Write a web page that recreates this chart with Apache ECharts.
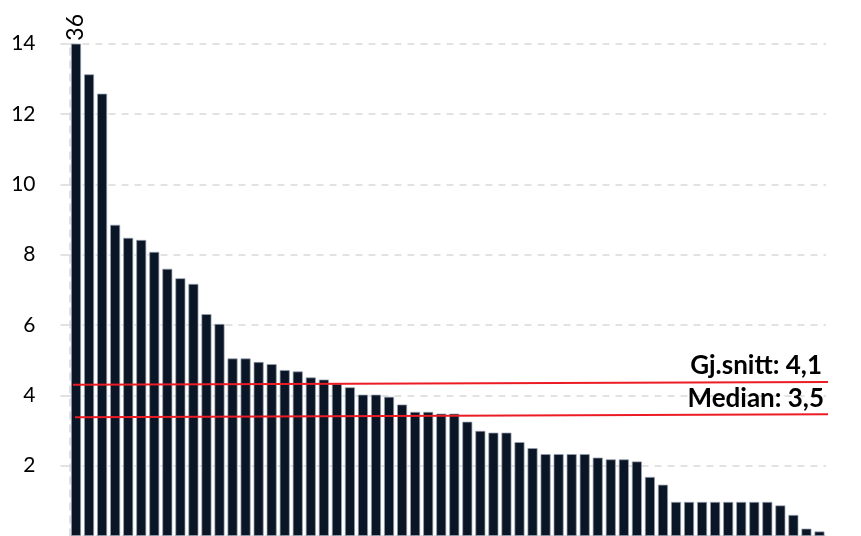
<!DOCTYPE html>
<html>
<head>
<meta charset="utf-8">
<script src="https://cdn.jsdelivr.net/npm/echarts@6/dist/echarts.min.js"></script>
<style>
  html, body { margin: 0; padding: 0; background: #fff; }
  #chart { width: 861px; height: 536px; }
</style>
</head>
<body>
<div id="chart"></div>
<script>
// verdier lest av figuren, sortert synkende
var values = [
  36, 13.13, 12.58, 8.85, 8.48, 8.42, 8.08, 7.60, 7.33, 7.17,
  6.31, 6.03, 5.05, 5.05, 4.95, 4.89, 4.72, 4.68, 4.51, 4.45,
  4.33, 4.23, 4.02, 4.02, 3.96, 3.74, 3.53, 3.53, 3.48, 3.48,
  3.25, 2.99, 2.94, 2.94, 2.67, 2.50, 2.33, 2.33, 2.33, 2.33,
  2.23, 2.18, 2.18, 2.12, 1.68, 1.46, 0.97, 0.97, 0.97, 0.97,
  0.97, 0.97, 0.97, 0.97, 0.87, 0.60, 0.21, 0.13
]
var categories = values.map(function (v, i) { return String(i + 1) })

var yMin = 0
var yMax = 14
var yInterval = 2

// referanselinjer (start/slutt i stolpeenheter, y-verdi)
var avgLine = [[0.27, 4.30], [58.24, 4.38]]
var medianLine = [[0.42, 3.38], [58.44, 3.46]]
var avgLabel = 'Gj.snitt: 4,1'
var medianLabel = 'Median: 3,5'

var font = 'Lato, "Open Sans", sans-serif'

// stolper over skalaen kappes, med faktisk verdi som etikett
var barData = values.map(function (v) {
  if (v > yMax) {
    return {
      value: yMax,
      label: { show: true, formatter: String(v) }
    }
  }
  return v
})

function refLine (pts, text, dx) {
  return {
    type: 'line',
    xAxisIndex: 1,
    data: pts,
    symbol: 'none',
    clip: false,
    silent: true,
    lineStyle: { color: '#ec1c24', width: 2 },
    endLabel: {
      show: true,
      formatter: text,
      align: 'right',
      verticalAlign: 'bottom',
      distance: 0,
      offset: [dx, -3],
      color: '#000',
      fontSize: 26,
      fontWeight: 'bold',
      fontFamily: font
    }
  }
}

var chart = echarts.init(document.getElementById('chart'))
chart.setOption({
  animation: false,
  backgroundColor: '#ffffff',
  grid: {
    left: 69.5,
    right: 35,
    top: 43.7,
    bottom: -3.5,
    containLabel: false
  },
  xAxis: [
    {
      type: 'category',
      data: categories,
      axisLine: { show: false },
      axisTick: { show: false },
      axisLabel: { show: false }
    },
    {
      type: 'value',
      min: 0,
      max: values.length,
      show: false
    }
  ],
  yAxis: {
    type: 'value',
    min: yMin,
    max: yMax,
    interval: yInterval,
    axisLine: {
      show: true,
      lineStyle: { color: '#d9d9d9', width: 1.5, type: [7, 6] }
    },
    axisTick: {
      show: true,
      length: 9,
      lineStyle: { color: '#d9d9d9', width: 1.5 }
    },
    axisLabel: {
      showMinLabel: false,
      margin: 34,
      color: '#000',
      fontSize: 21,
      fontFamily: font
    },
    splitLine: {
      show: true,
      lineStyle: { color: '#d9d9d9', width: 1.5, type: [7, 6] }
    }
  },
  series: [
    {
      type: 'bar',
      data: barData,
      barCategoryGap: '23%',
      itemStyle: {
        color: '#0a1526',
        borderColor: 'rgba(150,160,175,0.9)',
        borderWidth: 0.8
      },
      label: {
        show: false,
        position: 'top',
        rotate: 90,
        distance: 3,
        align: 'left',
        verticalAlign: 'middle',
        color: '#000',
        fontSize: 23,
        fontFamily: font
      }
    },
    refLine(avgLine, avgLabel, -6),
    refLine(medianLine, medianLabel, -4)
  ]
})
</script>
</body>
</html>
